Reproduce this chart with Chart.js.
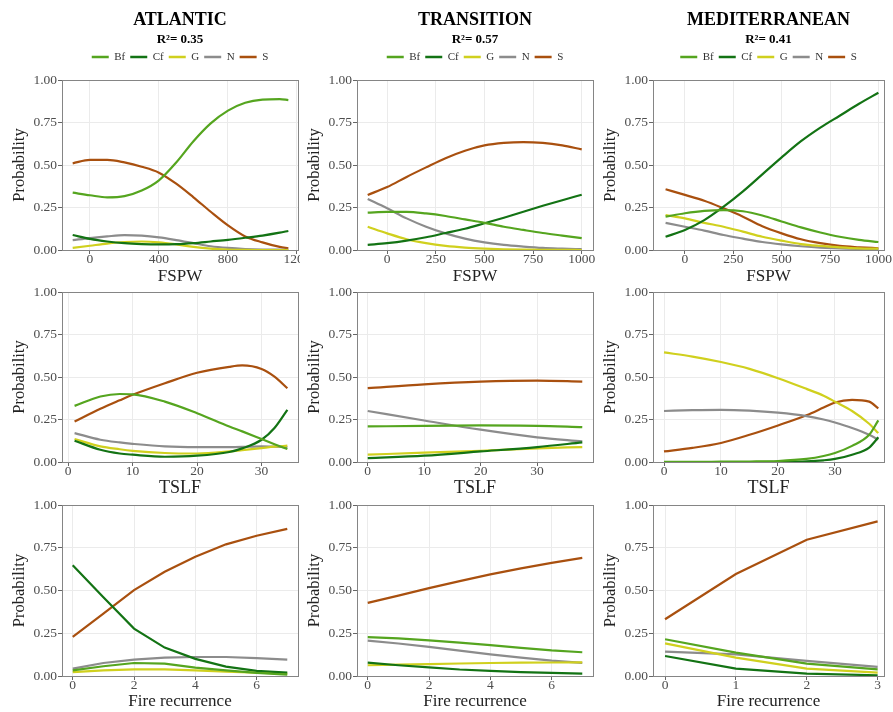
<!DOCTYPE html>
<html>
<head>
<meta charset="utf-8">
<script src="https://cdn.jsdelivr.net/npm/chart.js@4.4.1/dist/chart.umd.min.js"></script>
<style>
  html, body { margin: 0; padding: 0; background: #fff; }
  #fig { position: relative; width: 893px; height: 712px; overflow: hidden; background: #fff; }
  .panel { position: absolute; }
  .panel canvas { display: block; }
</style>
</head>
<body>
<div id="fig"></div>
<script>
// series + labels
var seriesNames = ['Bf', 'Cf', 'G', 'N', 'S'];
var seriesColors = ['#55a51f', '#137314', '#d0d01e', '#8c8c8c', '#a9500f'];
var regionNames = ['ATLANTIC', 'TRANSITION', 'MEDITERRANEAN'];
var regionR2 = ['R\u00b2= 0.35', 'R\u00b2= 0.57', 'R\u00b2= 0.41'];

// tick labels
var probTicks = [0, 0.25, 0.5, 0.75, 1];
var fspwTicksAtl = [0, 400, 800, 1200];
var fspwTicks = [0, 250, 500, 750, 1000];
var tslfTicks = [0, 10, 20, 30];
var fireTicks = [0, 2, 4, 6];
var fireTicksMed = [0, 1, 2, 3];

// Atlantic - FSPW
var atlFspwX  = [-100, 0, 100, 200, 300, 400, 500, 600, 700, 800, 900, 1000, 1100, 1150];
var atlFspwBf = [0.337, 0.322, 0.31, 0.317, 0.35, 0.41, 0.515, 0.64, 0.745, 0.82, 0.866, 0.885, 0.888, 0.882];
var atlFspwCf = [0.088, 0.065, 0.05, 0.04, 0.035, 0.033, 0.034, 0.04, 0.05, 0.06, 0.072, 0.085, 0.102, 0.112];
var atlFspwG  = [0.012, 0.025, 0.038, 0.047, 0.05, 0.045, 0.033, 0.018, 0.008, 0.003, 0.001, 0, 0, 0];
var atlFspwN  = [0.058, 0.07, 0.08, 0.087, 0.084, 0.074, 0.058, 0.04, 0.022, 0.012, 0.006, 0.003, 0.002, 0.001];
var atlFspwS  = [0.51, 0.53, 0.53, 0.515, 0.49, 0.455, 0.39, 0.31, 0.225, 0.145, 0.08, 0.045, 0.018, 0.01];

// Transition - FSPW
var traFspwX  = [-100, 0, 100, 200, 300, 400, 500, 600, 700, 800, 900, 1000];
var traFspwBf = [0.22, 0.224, 0.224, 0.215, 0.2, 0.18, 0.16, 0.137, 0.118, 0.1, 0.085, 0.07];
var traFspwCf = [0.03, 0.04, 0.055, 0.075, 0.1, 0.125, 0.157, 0.19, 0.225, 0.26, 0.293, 0.325];
var traFspwG  = [0.137, 0.098, 0.063, 0.04, 0.024, 0.014, 0.008, 0.004, 0.002, 0.001, 0.001, 0];
var traFspwN  = [0.30, 0.245, 0.186, 0.137, 0.098, 0.067, 0.045, 0.03, 0.02, 0.012, 0.008, 0.005];
var traFspwS  = [0.324, 0.37, 0.43, 0.486, 0.54, 0.584, 0.615, 0.63, 0.635, 0.63, 0.615, 0.592];

// Mediterranean - FSPW
var medFspwX  = [-100, 0, 100, 200, 300, 400, 500, 600, 700, 800, 900, 1000];
var medFspwBf = [0.196, 0.216, 0.23, 0.235, 0.228, 0.203, 0.168, 0.133, 0.103, 0.078, 0.06, 0.047];
var medFspwCf = [0.078, 0.118, 0.176, 0.255, 0.345, 0.445, 0.545, 0.64, 0.72, 0.79, 0.86, 0.925];
var medFspwG  = [0.206, 0.186, 0.16, 0.137, 0.108, 0.078, 0.055, 0.035, 0.024, 0.016, 0.01, 0.008];
var medFspwN  = [0.16, 0.137, 0.114, 0.088, 0.067, 0.047, 0.033, 0.022, 0.014, 0.01, 0.006, 0.004];
var medFspwS  = [0.357, 0.324, 0.29, 0.245, 0.196, 0.14, 0.098, 0.063, 0.04, 0.024, 0.016, 0.01];

// Atlantic - TSLF
var atlTslfX  = [1, 5, 8, 10, 15, 20, 25, 27, 30, 32, 34];
var atlTslfBf = [0.33, 0.385, 0.40, 0.398, 0.355, 0.287, 0.209, 0.18, 0.135, 0.105, 0.076];
var atlTslfCf = [0.125, 0.072, 0.05, 0.043, 0.031, 0.037, 0.059, 0.08, 0.131, 0.2, 0.307];
var atlTslfG  = [0.135, 0.092, 0.075, 0.066, 0.053, 0.05, 0.062, 0.07, 0.082, 0.09, 0.096];
var atlTslfN  = [0.17, 0.131, 0.115, 0.107, 0.092, 0.088, 0.088, 0.089, 0.092, 0.09, 0.088];
var atlTslfS  = [0.238, 0.313, 0.363, 0.395, 0.463, 0.525, 0.56, 0.568, 0.547, 0.502, 0.434];

// Transition - TSLF
var traTslfX  = [0, 10, 20, 30, 38];
var traTslfBf = [0.209, 0.213, 0.215, 0.213, 0.205];
var traTslfCf = [0.023, 0.037, 0.062, 0.088, 0.115];
var traTslfG  = [0.043, 0.055, 0.066, 0.08, 0.088];
var traTslfN  = [0.30, 0.244, 0.19, 0.145, 0.121];
var traTslfS  = [0.434, 0.457, 0.473, 0.479, 0.473];

// Mediterranean - TSLF
var medTslfX  = [0, 5, 10, 15, 20, 25, 28, 30, 33, 36, 37.6];
var medTslfBf = [0.001, 0.001, 0.002, 0.003, 0.006, 0.018, 0.035, 0.053, 0.095, 0.16, 0.245];
var medTslfCf = [0, 0, 0, 0, 0.001, 0.004, 0.01, 0.018, 0.043, 0.085, 0.145];
var medTslfG  = [0.645, 0.62, 0.588, 0.548, 0.493, 0.43, 0.39, 0.355, 0.30, 0.225, 0.17];
var medTslfN  = [0.30, 0.305, 0.307, 0.302, 0.29, 0.27, 0.25, 0.232, 0.2, 0.16, 0.132];
var medTslfS  = [0.062, 0.083, 0.112, 0.16, 0.215, 0.275, 0.32, 0.35, 0.365, 0.355, 0.315];

// Atlantic - fire recurrence
var atlFireX  = [0, 1, 2, 3, 4, 5, 6, 7];
var atlFireBf = [0.033, 0.057, 0.076, 0.072, 0.049, 0.033, 0.018, 0.008];
var atlFireCf = [0.648, 0.46, 0.277, 0.166, 0.10, 0.055, 0.03, 0.02];
var atlFireG  = [0.023, 0.033, 0.039, 0.039, 0.033, 0.025, 0.02, 0.014];
var atlFireN  = [0.043, 0.076, 0.096, 0.107, 0.111, 0.111, 0.105, 0.096];
var atlFireS  = [0.229, 0.365, 0.502, 0.61, 0.697, 0.77, 0.82, 0.86];

// Transition - fire recurrence
var traFireX  = [0, 1, 2, 3, 4, 5, 6, 7];
var traFireBf = [0.227, 0.22, 0.208, 0.195, 0.18, 0.165, 0.15, 0.139];
var traFireCf = [0.078, 0.063, 0.05, 0.038, 0.03, 0.023, 0.018, 0.014];
var traFireG  = [0.063, 0.066, 0.07, 0.073, 0.076, 0.078, 0.079, 0.08];
var traFireN  = [0.207, 0.19, 0.17, 0.148, 0.127, 0.108, 0.09, 0.077];
var traFireS  = [0.428, 0.47, 0.514, 0.555, 0.594, 0.629, 0.662, 0.691];

// Mediterranean - fire recurrence
var medFireX  = [0, 1, 2, 3];
var medFireBf = [0.215, 0.137, 0.072, 0.039];
var medFireCf = [0.117, 0.043, 0.014, 0.004];
var medFireG  = [0.191, 0.107, 0.043, 0.02];
var medFireN  = [0.143, 0.127, 0.088, 0.053];
var medFireS  = [0.332, 0.596, 0.797, 0.904];

// grid geometry (px)
var colLeft = [0, 298, 595], colRight = [300, 598, 893];
var plotLeft = [62, 357, 653], plotRight = [298, 593, 884];
var rowTop = [0, 280, 493], rowBottom = [290, 502, 712];
var areaTop = [80, 292, 505], areaBottom = [250, 462, 676];
var yTitlePad = [11.5, 8.5, 7.2];
var xTitleSize = [17, 18, 17], xTitlePad = [4.5, 5, 2];
var headerHeight = 72.5; // title 29 + subtitle 17.5 + legend 26

var serif = "'Liberation Serif', 'Times New Roman', serif";
Chart.defaults.font.family = serif;

var panels = [
  {row: 0, col: 0, xs: atlFspwX, ys: [atlFspwBf, atlFspwCf, atlFspwG, atlFspwN, atlFspwS], ticks: fspwTicksAtl, min: -162, max: 1206, xTitle: 'FSPW', smooth: true},
  {row: 0, col: 1, xs: traFspwX, ys: [traFspwBf, traFspwCf, traFspwG, traFspwN, traFspwS], ticks: fspwTicks, min: -155, max: 1058, xTitle: 'FSPW', smooth: true},
  {row: 0, col: 2, xs: medFspwX, ys: [medFspwBf, medFspwCf, medFspwG, medFspwN, medFspwS], ticks: fspwTicks, min: -165, max: 1029, xTitle: 'FSPW', smooth: true},
  {row: 1, col: 0, xs: atlTslfX, ys: [atlTslfBf, atlTslfCf, atlTslfG, atlTslfN, atlTslfS], ticks: tslfTicks, min: -0.95, max: 35.65, xTitle: 'TSLF', smooth: true},
  {row: 1, col: 1, xs: traTslfX, ys: [traTslfBf, traTslfCf, traTslfG, traTslfN, traTslfS], ticks: tslfTicks, min: -1.9, max: 39.9, xTitle: 'TSLF', smooth: true},
  {row: 1, col: 2, xs: medTslfX, ys: [medTslfBf, medTslfCf, medTslfG, medTslfN, medTslfS], ticks: tslfTicks, min: -1.93, max: 38.6, xTitle: 'TSLF', smooth: true},
  {row: 2, col: 0, xs: atlFireX, ys: [atlFireBf, atlFireCf, atlFireG, atlFireN, atlFireS], ticks: fireTicks, min: -0.35, max: 7.35, xTitle: 'Fire recurrence', smooth: false},
  {row: 2, col: 1, xs: traFireX, ys: [traFireBf, traFireCf, traFireG, traFireN, traFireS], ticks: fireTicks, min: -0.35, max: 7.35, xTitle: 'Fire recurrence', smooth: false},
  {row: 2, col: 2, xs: medFireX, ys: [medFireBf, medFireCf, medFireG, medFireN, medFireS], ticks: fireTicksMed, min: -0.17, max: 3.09, xTitle: 'Fire recurrence', smooth: false}
];

var fig = document.getElementById('fig');
var borderColor = '#858585';

function fixedTicks(list) {
  return function(scale) {
    scale.ticks = list.map(function(v) { return {value: v}; });
  };
}

function drawPanel(p) {
  var r = p.row, c = p.col;
  var first = r === 0;
  var wrap = document.createElement('div');
  wrap.className = 'panel';
  wrap.style.left = colLeft[c] + 'px';
  wrap.style.top = rowTop[r] + 'px';
  var canvas = document.createElement('canvas');
  canvas.width = colRight[c] - colLeft[c];
  canvas.height = rowBottom[r] - rowTop[r];
  wrap.appendChild(canvas);
  fig.appendChild(wrap);

  var topGap = areaTop[r] - rowTop[r] - (first ? headerHeight : 0);

  new Chart(canvas, {
    type: 'line',
    data: {
      datasets: seriesNames.map(function(name, i) {
        return {
          label: name,
          data: p.xs.map(function(x, j) { return {x: x, y: p.ys[i][j]}; }),
          borderColor: seriesColors[i],
          backgroundColor: seriesColors[i],
          borderWidth: 2.2,
          pointRadius: 0,
          pointHoverRadius: 0,
          pointBorderWidth: 2.6,
          cubicInterpolationMode: p.smooth ? 'monotone' : 'default',
          tension: 0,
          xAxisID: 'x',
          yAxisID: 'y'
        };
      })
    },
    options: {
      responsive: false,
      animation: false,
      events: [],
      layout: { padding: { top: 0, left: 0, bottom: 0, right: colRight[c] - plotRight[c] } },
      plugins: {
        title: {
          display: first, text: regionNames[c], fullSize: false, color: '#000',
          font: { size: 18, weight: 'bold', lineHeight: 1 },
          padding: { top: 11, bottom: 0 }
        },
        subtitle: {
          display: first, text: regionR2[c], fullSize: false, color: '#000',
          font: { size: 13, weight: 'bold', lineHeight: 1 },
          padding: { top: 4.5, bottom: 0 }
        },
        legend: {
          display: first, position: 'top', fullSize: false,
          labels: {
            usePointStyle: true, pointStyle: 'line', pointStyleWidth: 17,
            padding: 5, color: '#333', font: { size: 11 }
          }
        },
        tooltip: { enabled: false }
      },
      scales: {
        x: {
          type: 'linear', position: 'bottom', min: p.min, max: p.max,
          afterBuildTicks: fixedTicks(p.ticks),
          afterFit: function(s) { s.height = rowBottom[r] - areaBottom[r]; s.paddingLeft = 0; s.paddingRight = 0; },
          grid: { color: '#ebebeb', lineWidth: 1, tickLength: 4, tickColor: '#666', tickWidth: 1 },
          border: { display: true, color: borderColor, width: 1 },
          ticks: {
            color: '#4d4d4d', padding: -2.5, maxRotation: 0, autoSkip: false,
            font: { size: 13.5 },
            callback: function(v) { return String(v); }
          },
          title: {
            display: true, text: p.xTitle, color: '#222',
            font: { size: xTitleSize[r], lineHeight: 1 },
            padding: { top: 0, bottom: xTitlePad[r] }
          }
        },
        y: {
          type: 'linear', position: 'left', min: 0, max: 1,
          afterBuildTicks: fixedTicks(probTicks),
          afterFit: function(s) { s.width = plotLeft[c] - colLeft[c]; s.paddingTop = 0; s.paddingBottom = 0; },
          grid: { color: '#ebebeb', lineWidth: 1, tickLength: 4, tickColor: '#666', tickWidth: 1 },
          border: { display: true, color: borderColor, width: 1 },
          ticks: {
            color: '#4d4d4d', padding: 1,
            font: { size: 13.5 },
            callback: function(v) { return v.toFixed(2); }
          },
          title: {
            display: true, text: 'Probability', color: '#222',
            font: { size: 16.5, lineHeight: 1 },
            padding: { top: yTitlePad[c], bottom: 0 }
          }
        },
        // top and right frame of the panel
        x2: {
          type: 'linear', position: 'top',
          afterFit: function(s) { s.height = topGap; s.paddingLeft = 0; s.paddingRight = 0; },
          grid: { display: false },
          border: { display: true, color: borderColor, width: 1 },
          ticks: { display: false }
        },
        y2: {
          type: 'linear', position: 'right',
          afterFit: function(s) { s.width = 0; s.paddingTop = 0; s.paddingBottom = 0; },
          grid: { display: false },
          border: { display: true, color: borderColor, width: 1 },
          ticks: { display: false }
        }
      }
    }
  });
}

panels.forEach(drawPanel);
</script>
</body>
</html>
